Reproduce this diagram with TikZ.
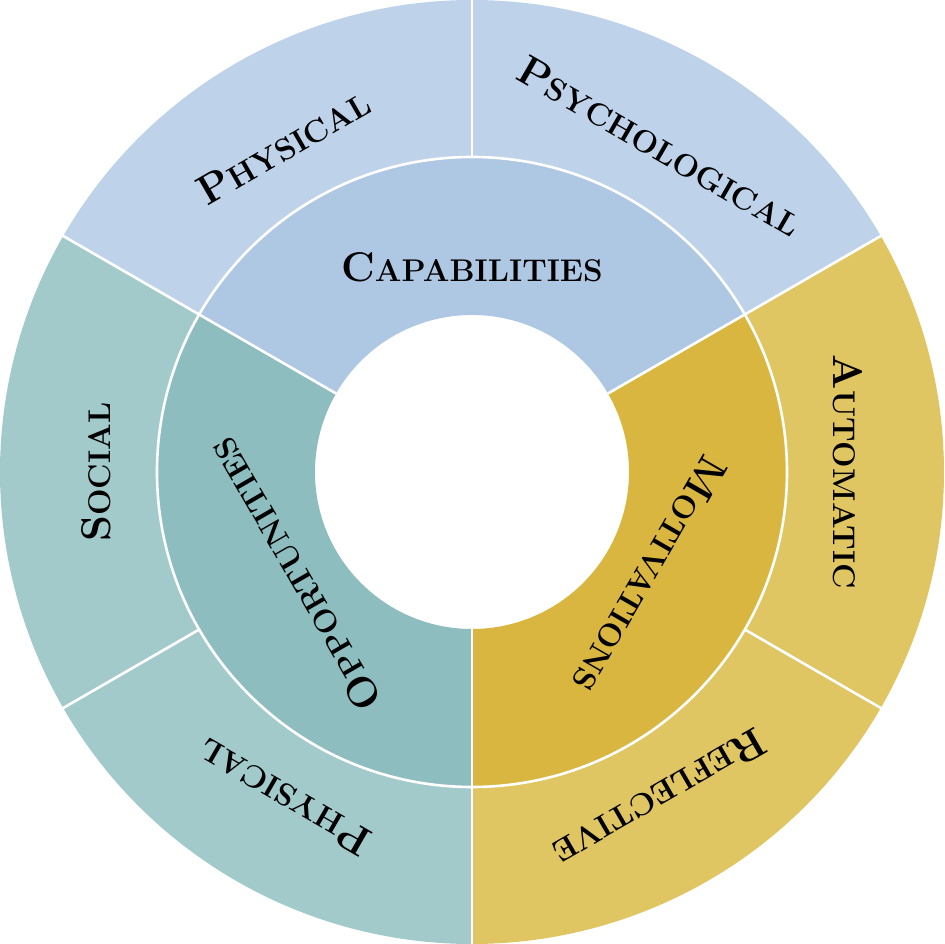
\documentclass[tikz,border=0pt]{standalone}
\usepackage{graphicx}
\definecolor{capin}{HTML}{AEC7E3}
\definecolor{capout}{HTML}{BED2E9}
\definecolor{oppin}{HTML}{8DBDBF}
\definecolor{oppout}{HTML}{A3CACB}
\definecolor{motin}{HTML}{D9B640}
\definecolor{motout}{HTML}{E0C563}
\newcommand\lbl[2]{{\fontsize{41.5}{41.5}\selectfont #1}{\fontsize{31.4}{31.4}\selectfont #2}}
\newcommand\ringsec[5]{%
  \fill[#1] (#2:#5) arc[start angle=#2,end angle=#3,radius=#5] -- (#3:#4)
    arc[start angle=#3,end angle=#2,radius=#4] -- cycle;}
\tikzset{
  lab/.style={font=\bfseries, inner sep=0pt, text=black},
  sep/.style={draw=white, line width=2.6pt},
}
\begin{document}
\begin{tikzpicture}[x=1pt,y=1pt]
\useasboundingbox (-472,-472) rectangle (472,472);
% inner ring
\ringsec{capin}{30}{150}{157}{315}
\ringsec{oppin}{150}{270}{157}{315}
\ringsec{motin}{-90}{30}{157}{315}
% outer ring
\ringsec{capout}{90}{150}{315}{472}
\ringsec{capout}{30}{90}{315}{472}
\ringsec{oppout}{150}{210}{315}{472}
\ringsec{oppout}{210}{270}{315}{472}
\ringsec{motout}{-30}{30}{315}{472}
\ringsec{motout}{-90}{-30}{315}{472}
% separators
\draw[sep] (0,0) circle[radius=315];
\draw[sep] (30:157) -- (30:473);
\draw[sep] (150:157) -- (150:473);
\draw[sep] (270:157) -- (270:473);
\draw[sep] (90:315) -- (90:473);
\draw[sep] (210:315) -- (210:473);
\draw[sep] (330:315) -- (330:473);
% labels
\node[lab, rotate=0] (cap) at (90:205) {\lbl{C}{APABILITIES}};
\node[lab, rotate=-120] (mot) at (-30:205) {\lbl{M}{OTIVATIONS}};
\node[lab, rotate=120] (opp) at (210:205) {\lbl{O}{PPORTUNITIES}};
\node[lab, rotate=30] (phc) at (120:376) {\lbl{P}{HYSICAL}};
\node[lab, rotate=-30] (psy) at (60:376) {\lbl{P}{SYCHOLOGICAL}};
\node[lab, rotate=-90] (aut) at (0:376) {\lbl{A}{UTOMATIC}};
\node[lab, rotate=-150] (ref) at (-60:376) {\lbl{R}{EFLECTIVE}};
\node[lab, rotate=150] (pho) at (240:376) {\lbl{P}{HYSICAL}};
\node[lab, rotate=90] (soc) at (180:376) {\lbl{S}{OCIAL}};
\end{tikzpicture}
\end{document}
